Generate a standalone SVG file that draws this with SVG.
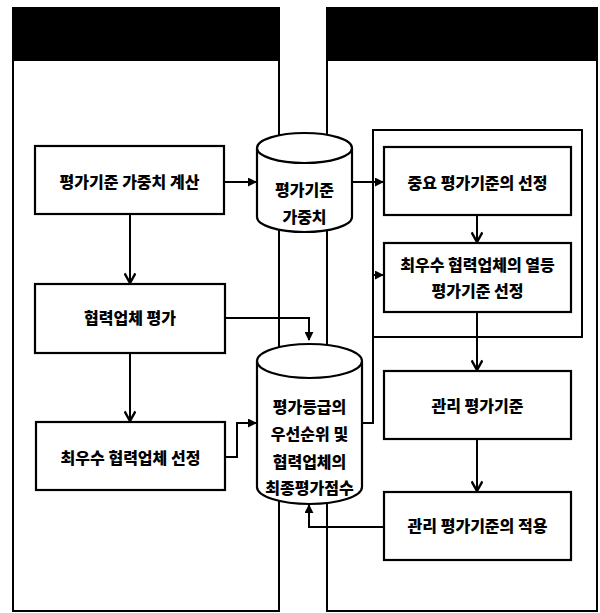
<svg xmlns="http://www.w3.org/2000/svg" width="600" height="613" viewBox="0 0 600 613">
<style>
.panel{fill:#fff;stroke:#000;stroke-width:2}
.hdr{fill:#000}
.box{fill:#fff;stroke:#000;stroke-width:2.2}
.cyl{fill:#fff;stroke:#000;stroke-width:2.2}
.edge{fill:none;stroke:#000;stroke-width:2}
text{font-family:"Noto Sans CJK KR","Noto Sans",sans-serif;font-weight:900;font-size:16px;text-anchor:middle;dominant-baseline:central;fill:#000}
.ct{font-size:16px}
</style>
<defs>
<marker id="tri" viewBox="0 0 10 10" refX="9" refY="5" markerWidth="9" markerHeight="9" markerUnits="userSpaceOnUse" orient="auto"><path d="M0,0 L10,5 L0,10 Z" fill="#000"/></marker>
<marker id="vee" viewBox="0 0 10 10" refX="9" refY="5" markerWidth="12" markerHeight="12" markerUnits="userSpaceOnUse" orient="auto"><path d="M1,0.5 L9,5 L1,9.5" fill="none" stroke="#000" stroke-width="2"/></marker>
</defs>
<g id="panel-left">
<rect class="panel" x="13" y="8" width="266" height="603"/>
<rect class="hdr" x="13" y="8" width="266" height="53"/>
</g>
<g id="panel-right">
<rect class="panel" x="327" y="8" width="270" height="603"/>
<rect class="hdr" x="327" y="8" width="270" height="53"/>
</g>
<g id="group-box">
<rect class="edge" x="373" y="130" width="209" height="207"/>
</g>
<g id="connectors">
<path class="edge" d="M224,182 H256" marker-end="url(#tri)"/>
<path class="edge" d="M352,182 H383" marker-end="url(#tri)"/>
<path class="edge" d="M130,214 V283" marker-end="url(#vee)"/>
<path class="edge" d="M130,353 V421" marker-end="url(#vee)"/>
<path class="edge" d="M225,318 H309 V340" marker-end="url(#tri)"/>
<path class="edge" d="M225,457 H237 V423 H256" marker-end="url(#tri)"/>
<path class="edge" d="M362,423 H373 V275 H383" marker-end="url(#tri)"/>
<path class="edge" d="M477,215 V242" marker-end="url(#vee)"/>
<path class="edge" d="M477,312 V370" marker-end="url(#vee)"/>
<path class="edge" d="M477,439 V491" marker-end="url(#vee)"/>
<path class="edge" d="M384,527 H309 V505" marker-end="url(#tri)"/>
</g>
<g id="n-weight-calc">
<rect class="box" x="35" y="146" width="189" height="68"/>
<text x="129.5" y="181">평가기준 가중치 계산</text>
</g>
<g id="n-supplier-eval">
<rect class="box" x="35" y="284" width="190" height="69"/>
<text x="130" y="317">협력업체 평가</text>
</g>
<g id="n-best-select">
<rect class="box" x="36" y="422" width="189" height="68"/>
<text x="130.5" y="457">최우수 협력업체 선정</text>
</g>
<g id="n-weight-db">
<path class="cyl" d="M257,148 V217 A47.5,15 0 0 0 352,217 V148"/>
<ellipse class="cyl" cx="304.5" cy="148" rx="47.5" ry="15"/>
<text class="ct" x="304.5" y="189">평가기준</text>
<text class="ct" x="304.5" y="216">가중치</text>
</g>
<g id="n-score-db">
<path class="cyl" d="M257,361 V487 A52.5,17 0 0 0 362,487 V361"/>
<ellipse class="cyl" cx="309.5" cy="361" rx="52.5" ry="17"/>
<text class="ct" x="309.5" y="406">평가등급의</text>
<text class="ct" x="309.5" y="433">우선순위 및</text>
<text class="ct" x="309.5" y="461">협력업체의</text>
<text class="ct" x="309.5" y="487">최종평가점수</text>
</g>
<g id="n-key-criteria">
<rect class="box" x="384" y="147" width="187" height="68"/>
<text x="477.5" y="182">중요 평가기준의 선정</text>
</g>
<g id="n-inferior-criteria">
<rect class="box" x="384" y="243" width="187" height="69"/>
<text x="477.5" y="264">최우수 협력업체의 열등</text>
<text x="477.5" y="290">평가기준 선정</text>
</g>
<g id="n-mgmt-criteria">
<rect class="box" x="384" y="371" width="187" height="68"/>
<text x="477.5" y="405">관리 평가기준</text>
</g>
<g id="n-mgmt-apply">
<rect class="box" x="384" y="492" width="187" height="68"/>
<text x="477.5" y="525">관리 평가기준의 적용</text>
</g>
</svg>
